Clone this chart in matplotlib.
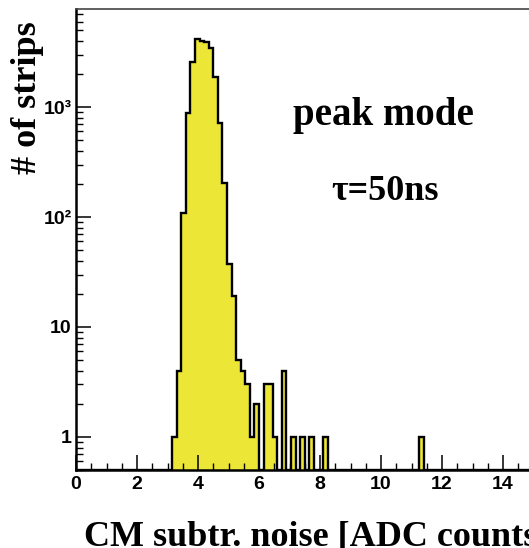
"""Noise distribution of CM-subtracted strips, peak mode."""
import matplotlib
matplotlib.use('Agg')
import matplotlib.pyplot as plt
from matplotlib.ticker import MultipleLocator, LogLocator, NullFormatter, FixedLocator, FixedFormatter
import numpy as np

# histogram binning (100 bins, 0 - 15 ADC counts)
n_bins = 100
x_lo, x_hi = 0.0, 15.0

# entries per bin
counts = [
    0, 0, 0, 0, 0, 0, 0, 0, 0, 0,
    0, 0, 0, 0, 0, 0, 0, 0, 0, 0,
    0, 1, 4, 108, 880, 2580, 4200, 4000, 3880, 3420,
    1880, 710, 205, 37, 19, 5, 4, 3, 1, 2,
    0, 3, 3, 1, 0, 4, 0, 1, 0, 1,
    0, 1, 0, 0, 1, 0, 0, 0, 0, 0,
    0, 0, 0, 0, 0, 0, 0, 0, 0, 0,
    0, 0, 0, 0, 0, 1, 0, 0, 0, 0,
    0, 0, 0, 0, 0, 0, 0, 0, 0, 0,
    0, 0, 0, 0, 0, 0, 0, 0, 0, 0,
]

y_ticks = [1, 10, 100, 1000]
y_tick_labels = ['1', '10', '10²', '10³']
y_range = (0.5, 7800)

x_label = 'CM subtr. noise [ADC counts]'
y_label = '# of strips'
note_mode = 'peak mode'
note_tau = 'τ=50ns'

W, H = 529, 548
fig = plt.figure(figsize=(W / 100, H / 100), dpi=100)
ax = fig.add_axes([76 / W, 78 / H, 457.5 / W, 461 / H])

edges = np.linspace(x_lo, x_hi, n_bins + 1)
shown = np.clip(np.array(counts, dtype=float), y_range[0], None)  # empty bins sit on the axis
ax.stairs(shown, edges, baseline=y_range[0], fill=True,
          facecolor='#ECE636', edgecolor='black', linewidth=1.7)

ax.set_yscale('log')
ax.set_xlim(x_lo, x_hi)
ax.set_ylim(*y_range)

# ROOT-like ticks, all pointing inwards
ax.xaxis.set_major_locator(MultipleLocator(2))
ax.xaxis.set_minor_locator(MultipleLocator(0.5))
ax.yaxis.set_major_locator(FixedLocator(y_ticks))
ax.yaxis.set_major_formatter(FixedFormatter(y_tick_labels))
ax.yaxis.set_minor_locator(LogLocator(base=10, subs=np.arange(2, 10)))
ax.yaxis.set_minor_formatter(NullFormatter())
ax.tick_params(which='major', direction='in', length=10.5, width=1.1,
               labelsize=14, top=False, right=False)
ax.tick_params(which='minor', direction='in', length=5, width=1.0,
               top=False, right=False)
ax.tick_params(axis='x', pad=4)
ax.tick_params(axis='y', pad=3)
for lab in ax.get_xticklabels() + ax.get_yticklabels():
    lab.set_family('Liberation Sans')
    lab.set_fontweight('bold')

for side in ('left', 'bottom'):
    ax.spines[side].set_linewidth(1.8)
ax.spines['top'].set_linewidth(1.2)
ax.spines['top'].set_color('#444444')

serif = dict(family='Liberation Serif', fontweight='bold')
fig.text(27 / W, 1 - 98 / H, y_label, rotation=90, ha='center', va='center',
         fontsize=26, **serif)
# the x title runs past the right edge, as in the original figure
fig.text(84 / W, 1 - 546 / H, x_label, ha='left', va='baseline',
         fontsize=26, **serif)
fig.text(383 / W, 1 - 125 / H, note_mode, ha='center', va='baseline',
         fontsize=28, **serif)
fig.text(385 / W, 1 - 200 / H, note_tau, ha='center', va='baseline',
         fontsize=26, **serif)

fig.savefig('out.png', dpi=100)
